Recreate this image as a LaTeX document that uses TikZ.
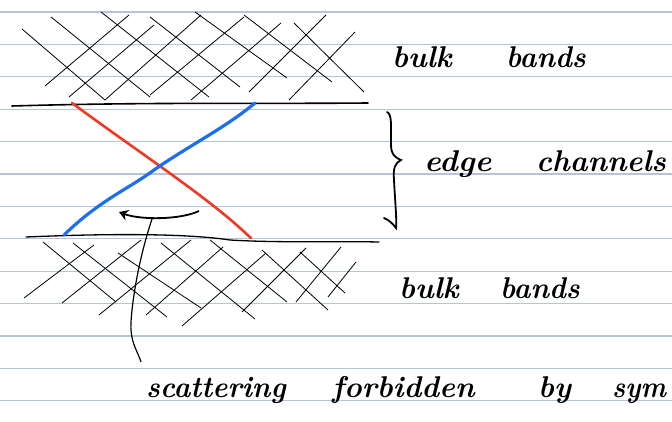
\documentclass[tikz,border=0pt]{standalone}
\usepackage{graphicx}
\usetikzlibrary{arrows.meta}
\definecolor{rule}{HTML}{B4C4DC}
\definecolor{redch}{HTML}{EE3A24}
\definecolor{bluech}{HTML}{1E6FF0}
\tikzset{
  hw/.style={font=\fontsize{30}{36}\selectfont\bfseries\itshape, anchor=base west, inner sep=0pt},
  hatch/.style={line width=0.8pt, black},
  ruleline/.style={rule, line width=1.2pt},
  edgeline/.style={black, line width=1.6pt, line cap=round},
}
\begin{document}
\begin{tikzpicture}[x=1pt,y=-1pt]
\useasboundingbox (0,0) rectangle (672,422);
\clip (0,0) rectangle (672,422);
\fill[white] (0,0) rectangle (672,422);
% ruled paper
\foreach \yy in {12,44.4,76.8,109.2,141.6,174,206.4,238.8,271.2,303.6,336,368.4,400.8}
  \draw[ruleline] (0,\yy) -- (672,\yy);
% top hatching
\foreach \a/\b/\c/\d in {45/86/129/15, 69/97/154/25, 105/100/201/15, 150/95/244/17, 191/100/281/23, 249/92/326/15, 289/100/355/32}
  \draw[hatch] (\a,\b) -- (\c,\d);
\foreach \a/\b/\c/\d in {22/29/105/100, 51/17/150/97, 101/12/209/97, 150/17/240/87, 195/12/287/78, 244/15/332/82, 294/23/364/92}
  \draw[hatch] (\a,\b) -- (\c,\d);
% bottom hatching
\foreach \a/\b/\c/\d in {24/298/94/245, 62/303/141/240, 99/315/191/240, 146/315/223/247, 182/326/266/253, 242/312/306/248, 296/302/341/247, 328/297/356/262}
  \draw[hatch] (\a,\b) -- (\c,\d);
\foreach \a/\b/\c/\d in {43/242/116/302, 73/243/167/317, 118/253/201/308, 161/243/255/319, 210/240/287/302, 262/250/328/310, 300/252/345/293}
  \draw[hatch] (\a,\b) -- (\c,\d);
% sample edges
\coordinate (tl) at (12,106);
\coordinate (tr) at (368,103);
\coordinate (bl) at (26,237);
\coordinate (br) at (379,242);
\draw[edgeline] (tl) .. controls (150,102) and (250,104) .. (tr);
\draw[edgeline, line width=1.3pt] (bl) .. controls (120,233) and (190,234) .. (230,240) .. controls (280,243) and (330,241) .. (br);
% edge channels
\coordinate (rt) at (72,103);
\coordinate (rb) at (251,238);
\coordinate (bt) at (255,103);
\coordinate (bb) at (64,235);
\draw[redch, line width=2.6pt, line cap=round] (rt) .. controls (130,146) and (200,192) .. (240,228) -- (rb);
\draw[bluech, line width=3.2pt, line cap=round] (bb) .. controls (100,200) and (130,188) .. (154,170) .. controls (190,145) and (225,128) .. (bt);
% scattering arrow
\coordinate (as) at (199,211);
\coordinate (ae) at (119,212);
\draw[black, line width=1.8pt, -{Stealth[length=9pt,width=11pt]}] (as) .. controls (180,220) and (140,220) .. (ae);
\coordinate (ps) at (152,219);
\coordinate (pe) at (141,362);
\draw[black, line width=1.2pt] (ps) .. controls (135,270) and (130,320) .. (131,330) .. controls (132,345) and (138,352) .. (pe);
% brace
\draw[black, line width=1.8pt, line cap=round] (387,112) .. controls (392,114) and (391,125) .. (391,145) .. controls (391,155) and (396,158) .. (401,160) .. controls (395,163) and (393,168) .. (394,180) .. controls (395,200) and (397,222) .. (396,228) .. controls (393,224) and (389,220) .. (384,218);
% labels
\node[hw] (bulk1) at (392,68) {\scalebox{1.0}[1]{bulk}};
\node[hw] (bands1) at (506,68) {\scalebox{0.95}[1]{bands}};
\node[hw] (edge) at (424,172) {\scalebox{1.05}[1]{edge}};
\node[hw] (chan) at (536,172) {\scalebox{1.0}[1]{channels}};
\node[hw] (bulk2) at (399,298) {\scalebox{1.0}[1]{bulk}};
\node[hw] (bands2) at (500,298) {\scalebox{0.95}[1]{bands}};
\node[hw] (scat) at (146,397) {\scalebox{0.95}[1]{scattering}};
\node[hw] (forb) at (332,397) {\scalebox{1.0}[1]{forbidden}};
\node[hw] (by) at (538,397) {\scalebox{1.0}[1]{by}};
\node[hw] (sym) at (612,397) {\scalebox{0.9}[1]{sym}};
\end{tikzpicture}
\end{document}
